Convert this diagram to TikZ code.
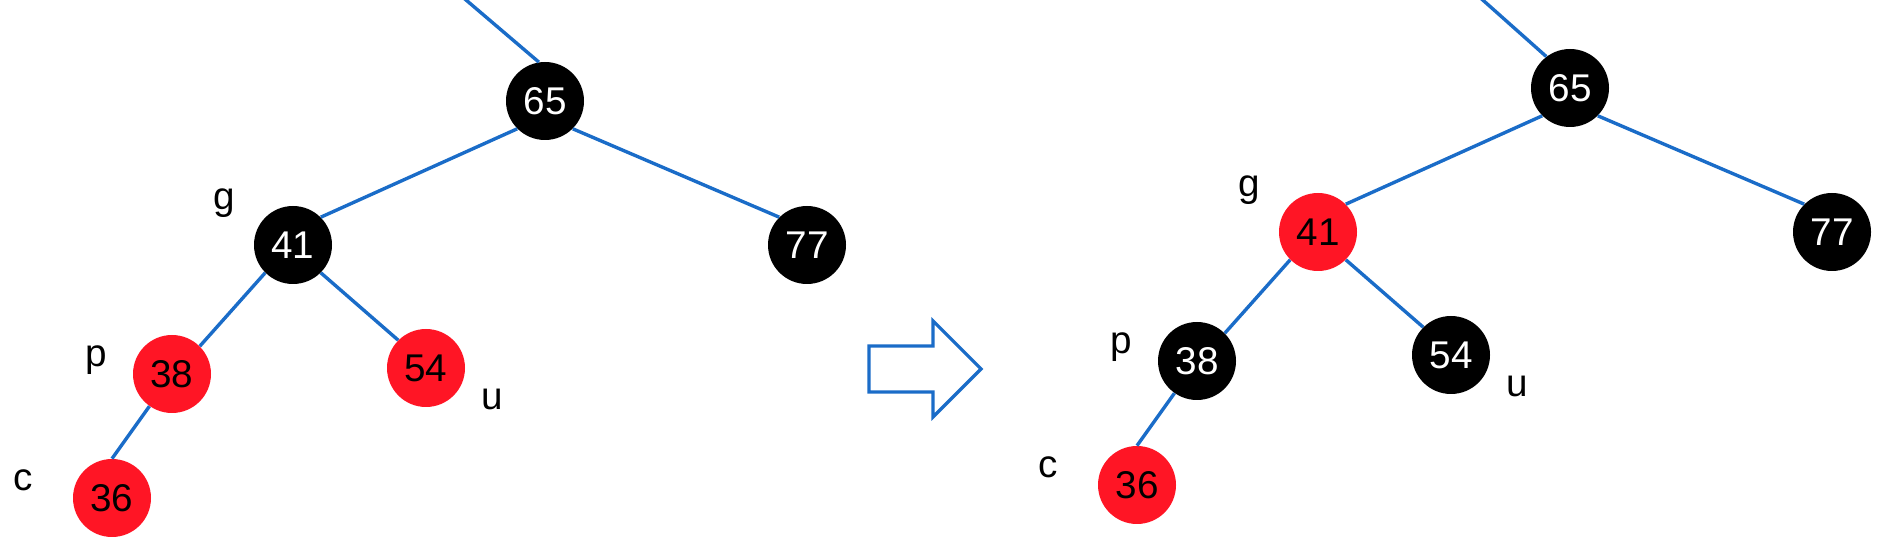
\documentclass[tikz,border=0pt]{standalone}
\usepackage{fontspec}
\setmainfont{Liberation Sans}
\definecolor[named]{TreeBlue}{RGB}{26,108,200}
\definecolor[named]{TreeRed}{RGB}{255,21,37}
\newcommand{\treefont}{\fontsize{22}{26}\selectfont}
\tikzset{
  rbnode/.style={circle,minimum size=15.6mm,inner sep=0pt,font=\treefont},
  blknode/.style={rbnode,fill=black,text=white},
  rednode/.style={rbnode,fill=TreeRed,text=black},
  edge/.style={TreeBlue,line width=0.68mm},
  lbl/.style={anchor=base,inner sep=0pt,font=\treefont},
}

\begin{document}
\begin{tikzpicture}[x=0.2mm,y=-0.2mm]
  \useasboundingbox (0,0) rectangle (1886,544);

  % Before {{{
  \begin{scope}
    \node[blknode] (a65) at (545,101) {65};
    \node[blknode] (a41) at (293,245) {41};
    \node[blknode] (a77) at (807,245) {77};
    \node[rednode] (a38) at (172,374) {38};
    \node[rednode] (a54) at (426,368) {54};
    \node[rednode] (a36) at (112,498) {36};
    \coordinate (aTop) at (459,-6);

    \draw[edge] (a65.99) -- (aTop);
    \draw[edge] (a65.south west) -- (a41.north east);
    \draw[edge] (a65.south east) -- (a77.north west);
    \draw[edge] (a41.south west) -- (a38.north east);
    \draw[edge] (a41.south east) -- (a54.north west);
    \draw[edge] (a38.235) -- (a36.north);

    \node[lbl] (ag) at (224,210) {g};
    \node[lbl] (ap) at (96,367) {p};
    \node[lbl] (au) at (492,410) {u};
    \node[lbl] (ac) at (23,491) {c};
  \end{scope}
  % }}}

  % Arrow {{{
  \draw[TreeBlue,line width=0.64mm,line join=miter]
    (869,346) -- (933,346) -- (933,321) -- (981,369)
    -- (933,417) -- (933,392) -- (869,392) -- cycle;
  % }}}

  % After {{{
  \begin{scope}[shift={(1025,-13)}]
    \node[blknode] (b65) at (545,101) {65};
    \node[rednode] (b41) at (293,245) {41};
    \node[blknode] (b77) at (807,245) {77};
    \node[blknode] (b38) at (172,374) {38};
    \node[blknode] (b54) at (426,368) {54};
    \node[rednode] (b36) at (112,498) {36};
    \coordinate (bTop) at (451,7);

    \draw[edge] (b65.127) -- (bTop);
    \draw[edge] (b65.south west) -- (b41.north east);
    \draw[edge] (b65.south east) -- (b77.north west);
    \draw[edge] (b41.south west) -- (b38.north east);
    \draw[edge] (b41.south east) -- (b54.north west);
    \draw[edge] (b38.235) -- (b36.north);

    \node[lbl] (bg) at (224,210) {g};
    \node[lbl] (bp) at (96,367) {p};
    \node[lbl] (bu) at (492,410) {u};
    \node[lbl] (bc) at (23,491) {c};
  \end{scope}
  % }}}

\end{tikzpicture}
\end{document}
